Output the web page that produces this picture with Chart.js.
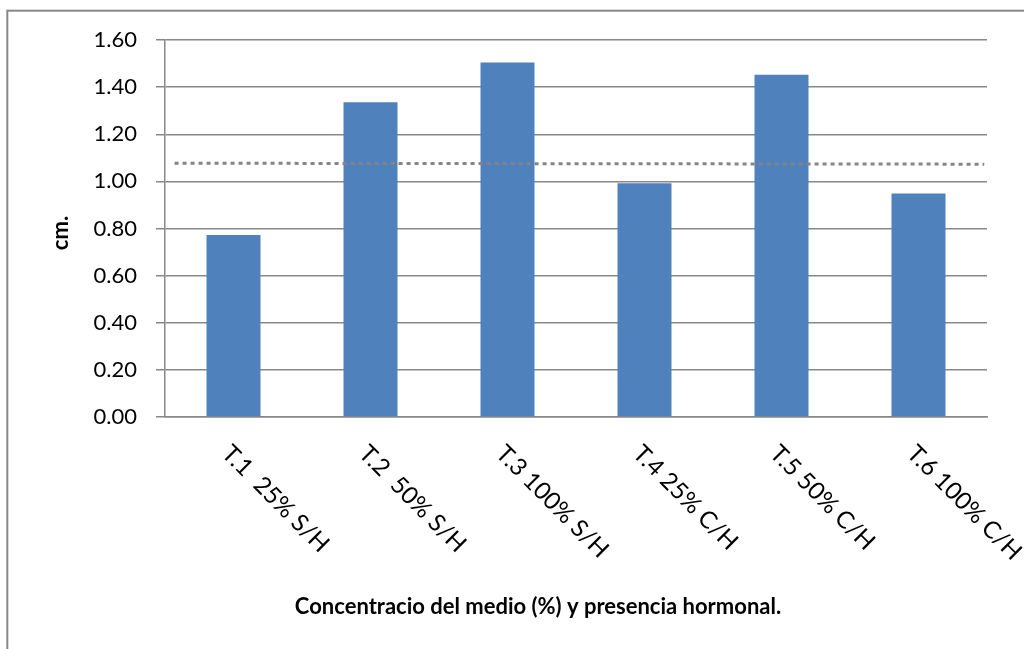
<!DOCTYPE html>
<html>
<head>
<meta charset="utf-8">
<script src="https://cdn.jsdelivr.net/npm/chart.js@4"></script>
<style>
  body { margin: 0; background: #fff; }
</style>
</head>
<body>
<canvas id="myChart" width="1024" height="649"></canvas>
<script>
const categorias = ['T.1  25% S/H', 'T.2  50% S/H', 'T.3 100% S/H', 'T.4 25% C/H', 'T.5 50% C/H', 'T.6 100% C/H']
const valores = [0.772, 1.336, 1.504, 0.992, 1.452, 0.949]
// linea punteada (tendencia), extremos sobre un eje x de 0 a 6
const tendenciaX = [0.07, 5.98]
const tendenciaY = [1.077, 1.073]
const yTicks = [0, 0.2, 0.4, 0.6, 0.8, 1.0, 1.2, 1.4, 1.6]

const tituloX = 'Concentracio del medio (%) y presencia hormonal.'
const tituloY = 'cm.'

const gris = '#888888'
const fuente = 'Lato, "Liberation Sans", sans-serif'

const textos = {
  id: 'textos',
  beforeDraw(chart) {
    const ctx = chart.ctx
    ctx.save()
    ctx.strokeStyle = gris
    ctx.lineWidth = 2
    ctx.strokeRect(7.3, 10.7, 2000, 2000)
    ctx.restore()
  },
  afterDraw(chart) {
    const ctx = chart.ctx
    const x = chart.scales.x
    ctx.save()
    ctx.fillStyle = '#000'
    ctx.font = '24px ' + fuente
    ctx.textAlign = 'left'
    ctx.textBaseline = 'top'
    categorias.forEach((c, i) => {
      const px = x.getPixelForValue(i)
      ctx.save()
      ctx.translate(px + 1, 441)
      ctx.rotate(Math.PI / 4)
      ctx.fillText(c, 0, 0)
      ctx.restore()
    })
    ctx.font = 'bold 22px ' + fuente
    ctx.textAlign = 'center'
    ctx.textBaseline = 'middle'
    ctx.fillText(tituloX, 538, 607)
    ctx.save()
    ctx.translate(61, 233)
    ctx.rotate(-Math.PI / 2)
    ctx.fillText(tituloY, 0, 0)
    ctx.restore()
    ctx.restore()
  }
}

const datasets = [
  {
    type: 'line',
    data: tendenciaX.map((v, i) => ({ x: v, y: tendenciaY[i] })),
    xAxisID: 'x2',
    borderColor: '#848484',
    borderWidth: 3,
    borderDash: [4, 4],
    pointRadius: 0,
    order: 0
  },
  {
    type: 'bar',
    data: valores,
    backgroundColor: '#4F81BD',
    borderWidth: 0,
    grouped: false,
    categoryPercentage: 1,
    barPercentage: 0.394,
    order: 1
  }
]

new Chart(document.querySelector('#myChart'), {
  data: { labels: categorias, datasets },
  plugins: [textos],
  options: {
    responsive: false,
    animation: false,
    layout: { padding: { left: 0, top: 40, right: 37, bottom: 232 } },
    plugins: { legend: { display: false }, tooltip: { enabled: false } },
    scales: {
      x: {
        type: 'category',
        grid: { display: false },
        border: { display: true, color: gris, width: 1.5 },
        ticks: { display: false },
        afterFit: (s) => { s.height = 0 }
      },
      x2: { type: 'linear', min: 0, max: 6, display: false },
      y: {
        min: 0,
        max: 1.6,
        afterBuildTicks: (s) => { s.ticks = yTicks.map((v) => ({ value: v })) },
        afterFit: (s) => { s.width = 165 },
        grid: { color: gris, lineWidth: 1.5, tickLength: 9 },
        border: { display: true, color: gris, width: 1.5 },
        ticks: {
          padding: 19,
          color: '#000',
          font: { family: fuente, size: 22 },
          callback: (v) => Number(v).toFixed(2)
        }
      }
    }
  }
})
</script>
</body>
</html>
